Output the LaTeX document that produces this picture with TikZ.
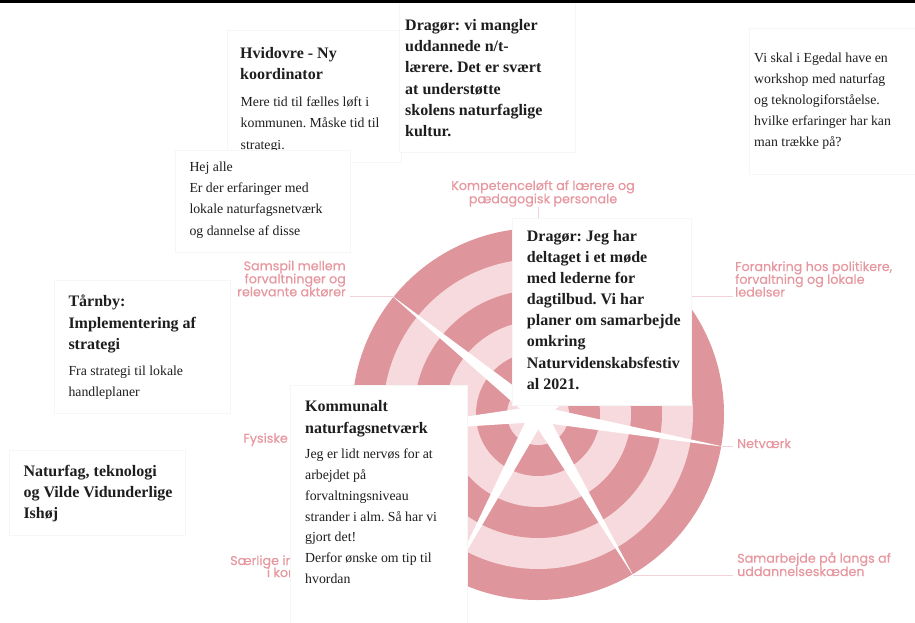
\documentclass[tikz,border=0pt]{standalone}
\usepackage{fontspec}
\setmainfont{Liberation Serif}
\newfontfamily\labelfont[FakeBold=0.5]{Poppins}
\usetikzlibrary{calc,shadows}
\definecolor{ringdark}{HTML}{DE959B}
\definecolor{ringlight}{HTML}{F7DADD}
\definecolor{labc}{HTML}{E6979F}
\definecolor{leadc}{HTML}{F3D3D7}
\definecolor{textc}{HTML}{1E1E1E}
\frenchspacing
\tikzset{
  card/.style={fill=white, draw=black!3.5, line width=0.5pt,
    drop shadow={shadow xshift=0pt, shadow yshift=-1pt, opacity=.04, fill=black}},
  head/.style={anchor=base west, inner sep=0pt, text=textc, font=\fontsize{16}{21.5}\selectfont\bfseries},
  body/.style={anchor=base west, inner sep=0pt, text=textc, font=\fontsize{13.8}{21.3}\selectfont},
  labw/.style={anchor=base west, inner sep=0pt, text=labc, font=\labelfont\fontsize{12.7}{13}\selectfont},
  labe/.style={anchor=base east, inner sep=0pt, text=labc, font=\labelfont\fontsize{12.7}{13}\selectfont},
  labm/.style={anchor=base, inner sep=0pt, text=labc, font=\labelfont\fontsize{12.7}{13}\selectfont},
  lead/.style={draw=leadc, line width=0.7pt}
}
\newcommand\putlines[6]{%
  \foreach \txt [count=\i] in {#6} {\node[#2] (#1\i) at (#3,{#4+#5*(\i-1)}) {\txt};}}
\begin{document}
\begin{tikzpicture}[x=1pt,y=-1pt]
\useasboundingbox (0,0) rectangle (915,622);
% radial chart
\coordinate (c) at (538,414);
\foreach \rr/\cc in {186/ringdark,155/ringlight,124/ringdark,93/ringlight,62/ringdark,31/ringlight}
  \fill[\cc] (c) circle (\rr pt);
\foreach \a in {141,90,39,-10,-59.5,-118,-174}
  \fill[white] ($(c)+(\a+90:8pt)$) -- ($(c)+(\a:190pt)$) -- ($(c)+(\a-90:8pt)$) -- cycle;
% ray tips and leader ends
\coordinate (tSam) at ($(c)+(141:187pt)$);
\coordinate (tKom) at ($(c)+(90:187pt)$);
\coordinate (tFor) at ($(c)+(39:187pt)$);
\coordinate (tNet) at ($(c)+(-10:187pt)$);
\coordinate (tSmb) at ($(c)+(-59.5:187pt)$);
\coordinate (lx) at (350,0);
\coordinate (rx) at (733,0);
\coordinate (ky) at (0,207);
\draw[lead] (tSam) -- (tSam -| lx);
\draw[lead] (tKom) -- (tKom |- ky);
\draw[lead] (tFor) -- (tFor -| rx);
\draw[lead] (tNet) -- (tNet -| rx);
\draw[lead] (tSmb) -- (tSmb -| rx);
% labels
\putlines{lKom}{labm}{543}{190}{13.3}{Kompetenceløft af lærere og,pædagogisk personale}
\putlines{lSam}{labe}{346}{270.3}{13}{Samspil mellem,forvaltninger og,relevante aktører}
\putlines{lFor}{labw}{735}{271}{12.8}{{Forankring hos politikere,},forvaltning og lokale,ledelser}
\node[labw] (lNet) at (737,448) {Netværk};
\putlines{lSmb}{labw}{737}{562.7}{13.3}{Samarbejde på langs af,uddannelseskæden}
\node[labe] (lFys) at (288,442.7) {Fysiske};
\node[labw] (lSae1) at (230,565) {Særlige in};
\node[labw] (lSae2) at (266.7,577) {i kom};
% cards
\fill[card] (227,30) rectangle (401,162);
\putlines{hvH}{head}{240}{58}{21.7}{Hvidovre - Ny,koordinator}
\putlines{hvB}{body}{240.5}{106}{21.5}{Mere tid til fælles løft i,kommunen. Måske tid til,strategi.}
\fill[card] (399.5,-10) rectangle (575,152);
\putlines{drT}{head}{405}{30}{21.35}{Dragør: vi mangler,uddannede n/t-,lærere. Det er svært,at understøtte,skolens naturfaglige,kultur.}
\fill[card] (749,28.3) rectangle (930,174);
\putlines{eg}{body}{754}{62.3}{21.1}{Vi skal i Egedal have en,workshop med naturfag,og teknologiforståelse.,hvilke erfaringer har kan,man trække på?}
\fill[card] (175,150) rectangle (350,252);
\putlines{hej}{body}{189.3}{171.7}{21.1}{Hej alle,Er der erfaringer med,lokale naturfagsnetværk,og dannelse af disse}
\fill[card] (54,280) rectangle (230,413);
\putlines{taH}{head}{68.3}{306.7}{21.3}{Tårnby:,Implementering af,strategi}
\putlines{taB}{body}{68.3}{375}{21}{Fra strategi til lokale,handleplaner}
\fill[card] (9,450) rectangle (185,535);
\putlines{is}{head}{23.3}{476}{21.2}{{Naturfag, teknologi},og Vilde Vidunderlige,Ishøj}
\fill[card] (512,218) rectangle (691.5,405);
\putlines{drM}{head}{526.7}{241.7}{21.05}{Dragør: Jeg har,deltaget i et møde,med lederne for,dagtilbud. Vi har,planer om samarbejde,omkring,Naturvidenskabsfestiv,al 2021.}
\fill[card] (290,385) rectangle (467,640);
\putlines{koH}{head}{305}{411.7}{21.6}{Kommunalt,naturfagsnetværk}
\putlines{koB}{body}{305}{458.3}{20.9}{Jeg er lidt nervøs for at,arbejdet på,forvaltningsniveau,strander i alm. Så har vi,gjort det!,Derfor ønske om tip til,hvordan}
% top bar
\fill[black] (0,-5) rectangle (915,3.3);
\end{tikzpicture}
\end{document}
